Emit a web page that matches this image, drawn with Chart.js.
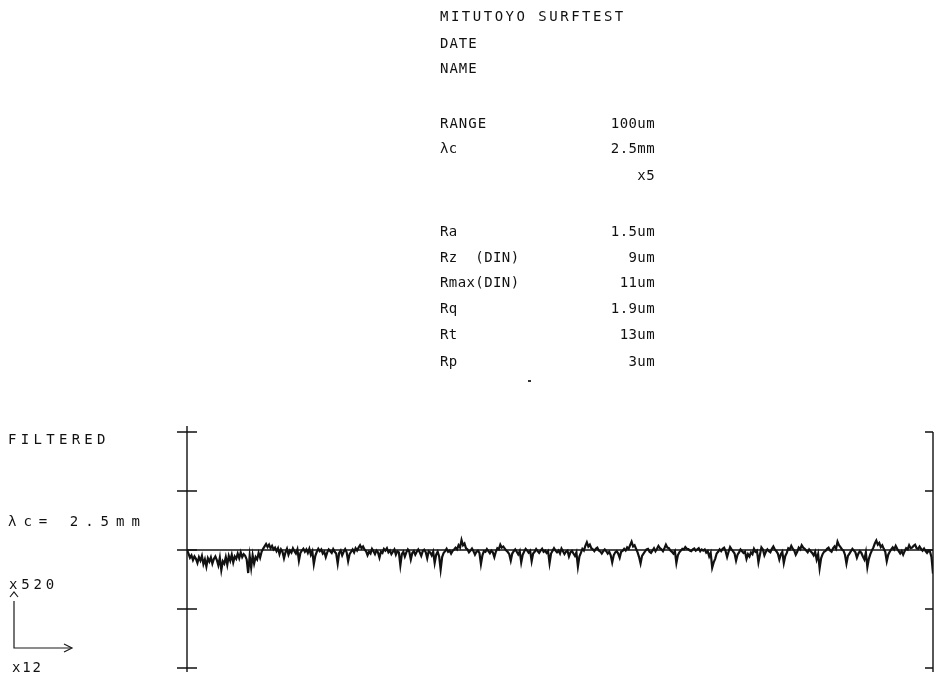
<!DOCTYPE html>
<html>
<head>
<meta charset="utf-8">
<script src="https://cdn.jsdelivr.net/npm/chart.js@4.4.1/dist/chart.umd.min.js"></script>
<style>
  html, body { margin: 0; padding: 0; background: #fff; }
  body { width: 939px; height: 678px; position: relative; overflow: hidden; }
  #wrap { position: absolute; left: 0; top: 0; width: 939px; height: 678px; }
  .t { position: absolute; font-family: "DejaVu Sans Mono", monospace; font-size: 14px; line-height: 20px;
       color: #111; letter-spacing: 0.4px; white-space: pre; }
  .v { text-align: right; left: 540px; width: 115px; }
  .b { letter-spacing: 4.3px; }
  svg { position: absolute; left: 0; top: 0; }
</style>
</head>
<body>
<div id="wrap"><canvas id="c" width="939" height="678"></canvas></div>

<div class="t" style="left:440px; top:6px; letter-spacing:2.5px;">MITUTOYO SURFTEST</div>
<div class="t" style="left:440px; top:33px; letter-spacing:1.0px;">DATE</div>
<div class="t" style="left:440px; top:58px; letter-spacing:1.0px;">NAME</div>

<div class="t" style="left:440px; top:113px; letter-spacing:1.0px;">RANGE</div>
<div class="t v" style="top:113px;">100um</div>
<div class="t" style="left:440px; top:138px;">λc</div>
<div class="t v" style="top:138px;">2.5mm</div>
<div class="t v" style="top:165px;">x5</div>

<div class="t" style="left:440px; top:221px;">Ra</div>
<div class="t v" style="top:221px;">1.5um</div>
<div class="t" style="left:440px; top:247px;">Rz  (DIN)</div>
<div class="t v" style="top:247px;">9um</div>
<div class="t" style="left:440px; top:272px;">Rmax(DIN)</div>
<div class="t v" style="top:272px;">11um</div>
<div class="t" style="left:440px; top:298px;">Rq</div>
<div class="t v" style="top:298px;">1.9um</div>
<div class="t" style="left:440px; top:324px;">Rt</div>
<div class="t v" style="top:324px;">13um</div>
<div class="t" style="left:440px; top:351px;">Rp</div>
<div class="t v" style="top:351px;">3um</div>
<div style="position:absolute; left:528px; top:380px; width:3px; height:2px; background:#333;"></div>

<div class="t b" style="left:8px; top:429px;">FILTERED</div>
<div class="t b" style="left:8px; top:511px; letter-spacing:7.0px;">λc= 2.5mm</div>
<div class="t b" style="left:9px; top:574px; letter-spacing:3.8px;">x520</div>
<div class="t b" style="left:12px; top:657px; letter-spacing:1.8px;">x12</div>
<svg width="100" height="678" viewBox="0 0 100 678">
  <path d="M10 597 L14 592 L18 597" fill="none" stroke="#1a1a1a" stroke-width="1.2"/>
  <path d="M14 601 L14 648 L71 648" fill="none" stroke="#1a1a1a" stroke-width="1.2"/>
  <path d="M64 644 L72 648 L64 652" fill="none" stroke="#1a1a1a" stroke-width="1.2"/>
</svg>

<script>
// ---- data ----
const evalLengthMM = 12.5;          // x range of the trace, mm
const yTicksUM = [-40, -20, 0, 20, 40];
const profileUM = [
  0, -1.2, -2.6, -1.8, -3.4, -2.2, -3.0, -4.4, -2.4, -3.6, -2.0, -4.8, -3.2, -5.6, -2.8, -3.9, -2.5, -4.6, -3.0, -2.2,
  -3.4, -5.2, -2.6, -6.8, -3.8, -4.6, -2.4, -5.0, -2.0, -3.6, -1.6, -4.2, -2.2, -3.0, -1.2, -2.8, -0.8, -2.4, -1.4, -2.0,
  -3.2, -7.8, -2.0, -6.0, -1.8, -4.6, -2.4, -3.2, -1.0, -2.6, -0.6, 0.4, 1.2, 2.0, 1.0, 1.8, 0.6, 1.4, 0.2, 0.8,
  -0.4, 0.6, -1.4, 0.2, -0.6, -2.8, -0.8, 0.4, -1.6, -0.2, -0.9, 0.6, -0.4, -1.2, 0.2, -3.6, -1.0, -0.2, 0.4, -0.6,
  0.2, -1.0, 0.4, -1.6, -0.4, -4.8, -2.0, -0.6, 0.4, -0.4, 0.2, -1.2, -0.6, -2.4, -0.8, 0.2, -0.4, -1.0, 0.3, -0.6,
  -1.2, -4.6, -1.0, -0.2, -1.8, -0.6, 0.3, -0.8, -3.8, -1.4, -0.6, 0.2, -0.8, 0.6, -0.2, 0.8, 1.6, 0.6, 1.2, 0.2,
  -0.4, -1.8, -0.6, -1.2, 0.4, -0.4, -1.4, -0.2, -0.8, -2.6, -0.6, -1.0, 0.4, -0.2, 0.6, -0.8, -0.2, -1.4, -0.6, 0.2,
  -1.6, -0.4, -0.8, -5.2, -1.4, -0.6, -2.2, -0.8, 0.2, -0.6, -3.2, -1.0, -0.4, -1.6, -0.6, 0.2, -0.8, -2.0, -0.4, 0.1,
  -0.7, -2.8, -0.4, -0.8, -1.8, -0.6, -4.4, -1.6, -0.6, -2.2, -6.6, -2.4, -1.0, -0.4, 0.4, -0.6, -0.2, -1.2, -0.3, 0.2,
  0.8, 0.2, 1.6, 0.8, 3.4, 1.6, 2.2, 0.6, 0.2, -0.8, -0.2, 0.5, -0.4, -1.6, -0.6, -0.2, -1.0, -4.8, -1.8, -0.4,
  -0.6, 0.3, -0.4, -1.1, -0.2, -0.8, -2.4, -0.6, 0.6, 0.2, 1.8, 0.8, 1.2, 0.5, -0.2, -0.7, -1.4, -3.6, -1.2, -0.4,
  0.2, -0.6, -1.5, -0.4, -4.2, -1.6, -0.5, 0.4, -0.2, -0.9, -0.3, -3.8, -1.2, -0.6, 0.3, -0.4, -1.0, -0.2, 0.4, -0.6,
  -0.2, -1.0, -0.4, -4.5, -1.2, -0.3, 0.6, -0.2, -0.8, -0.2, -1.2, 0.5, -0.4, -1.4, -0.6, -0.2, -2.2, -0.8, -0.3, -1.2,
  -2.0, -0.8, -5.6, -2.2, -1.0, 0.4, -0.2, 1.4, 2.6, 1.2, 1.8, 0.6, 0.2, -0.4, 0.4, 0.8, -0.2, -0.5, -1.2, -0.4,
  0.2, -0.4, -1.2, -0.6, -1.8, -4.2, -1.8, -0.8, -0.4, -1.2, -2.6, -0.6, -0.3, 0.4, -0.2, 0.9, 0.4, 1.6, 2.8, 1.2,
  1.6, 0.4, -0.8, -2.4, -4.6, -2.0, -1.2, -0.5, 0.2, 0.4, -0.6, -1.0, -0.2, 0.6, -0.4, 0.4, 1.4, 0.6, 0.2, -0.4,
  0.6, 1.8, 0.8, 0.6, -0.2, -0.6, -1.2, -0.4, -4.4, -1.8, -0.8, -0.2, 0.4, 0.2, 1.0, 0.4, 0.3, -0.2, -0.4, 0.2,
  0.5, -0.2, 0.2, 0.6, -0.4, 0.2, -0.2, 0.2, -0.9, -0.4, -2.2, -1.0, -6.0, -4.2, -3.0, -1.2, -0.6, 0.2, -0.4, 0.4,
  0.8, -0.4, -2.4, -0.6, 1.0, 0.2, -0.5, -1.2, -3.6, -1.6, -0.8, 0.2, -0.4, -1.0, -0.6, -3.0, -1.4, -2.2, -0.8, -1.4,
  0.4, -0.6, -0.2, -4.2, -1.6, 0.9, 0.2, -1.8, -0.6, 0.2, -0.4, -0.8, 0.4, 1.2, 0.2, -0.4, -1.2, -3.2, -1.4, -0.6,
  -4.4, -2.0, -1.0, 0.6, 0.2, 1.4, 0.4, -0.2, -1.6, -0.6, 0.8, 0.2, 1.6, 0.8, 0.4, -0.2, -0.8, 0.2, -0.4, -1.0,
  -1.8, -0.6, -3.2, -1.4, -6.2, -2.8, -1.4, -0.6, -0.3, 0.4, 0.8, -0.2, -0.6, 0.6, 1.2, 0.4, 2.8, 1.6, 1.0, 0.2,
  -0.2, -1.6, -4.6, -2.0, -1.2, -0.4, 0.4, -0.2, -0.8, -2.6, -1.2, -0.4, -1.0, -2.2, -3.2, -0.8, -5.8, -3.0, -1.4, -0.2,
  0.8, 2.2, 3.2, 1.8, 2.4, 1.0, 1.6, 0.4, -0.6, -3.8, -1.6, -0.6, 0.2, 0.9, 0.2, 1.4, 0.4, -0.4, -1.2, -0.4,
  -1.6, -0.4, 0.6, 0.2, 1.6, 0.6, 0.8, 1.4, 1.8, 0.6, 0.4, 1.2, 0.4, -0.2, 0.5, -0.4, -1.0, -0.3, -0.6, -2.4, -8.0
];

// samples are evenly spaced along the evaluation length
const sampleStepMM = evalLengthMM / (profileUM.length - 1);
const profilePoints = profileUM.map((v, i) => ({ x: i * sampleStepMM, y: v }));
const meanLine = [{ x: 0, y: 0 }, { x: evalLengthMM, y: 0 }];
const ink = '#111';

const frame = {
  id: 'frame',
  afterDatasetsDraw(chart) {
    const { ctx, scales: { x, y } } = chart;
    const xl = x.getPixelForValue(0), xr = x.getPixelForValue(evalLengthMM);
    const yt = y.getPixelForValue(yTicksUM[yTicksUM.length - 1]);
    const yb = y.getPixelForValue(yTicksUM[0]);
    ctx.save();
    ctx.strokeStyle = ink;
    ctx.lineWidth = 1.4;
    ctx.beginPath();
    ctx.moveTo(xl, yt - 6); ctx.lineTo(xl, yb + 4);
    ctx.moveTo(xr, yt); ctx.lineTo(xr, yb + 4);
    yTicksUM.forEach(t => {
      const py = y.getPixelForValue(t);
      ctx.moveTo(xl - 10, py); ctx.lineTo(xl + 10, py);
      ctx.moveTo(xr - 8, py); ctx.lineTo(xr, py);
    });
    ctx.stroke();
    ctx.restore();
  }
};

new Chart(document.getElementById('c'), {
  type: 'line',
  data: {
    datasets: [
      { data: meanLine, borderColor: ink, borderWidth: 1.4, pointRadius: 0, tension: 0 },
      { data: profilePoints, borderColor: ink, borderWidth: 2.2, pointRadius: 0, tension: 0 }
    ]
  },
  options: {
    responsive: false,
    animation: false,
    events: [],
    layout: { padding: { left: 187, right: 6, top: 432, bottom: 10 } },
    plugins: { legend: { display: false }, tooltip: { enabled: false } },
    scales: {
      x: { type: 'linear', min: 0, max: evalLengthMM, display: false },
      y: { type: 'linear', min: yTicksUM[0], max: yTicksUM[yTicksUM.length - 1], display: false }
    }
  },
  plugins: [frame]
});
</script>
</body>
</html>
